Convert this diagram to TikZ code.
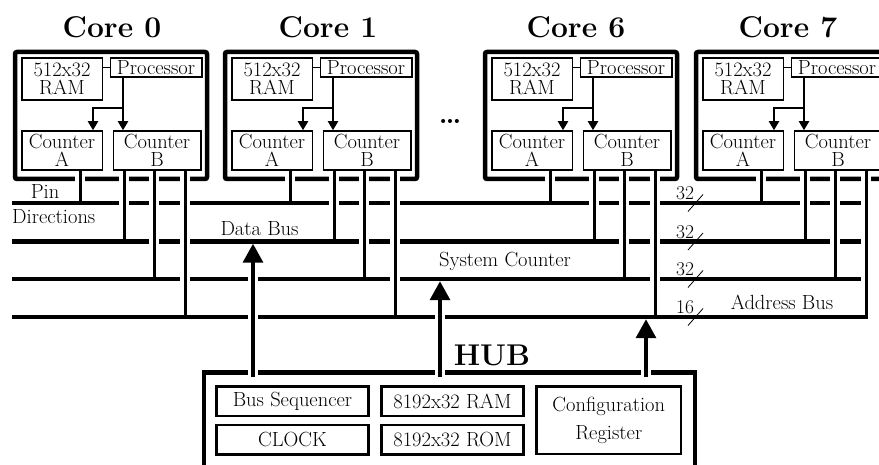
\documentclass[tikz,border=0pt]{standalone}
\usepackage{tikz}
\usetikzlibrary{calc,arrows.meta,positioning}

\begin{document}
\begin{tikzpicture}
[x=1pt,y=-1pt,every node/.style={inner sep=0pt,align=center,
	font=\fontsize{20.5}{17.5}\selectfont},
 corebox/.style={line width=4.5pt,rounded corners=2pt},
 unit/.style={draw,line width=1.5pt,minimum height=39pt},
 hubunit/.style={draw,line width=2.5pt,minimum height=29.5pt},
 title/.style={anchor=base,font=\fontsize{30}{36}\selectfont\bfseries},
 bus/.style={line width=4.5pt},
 wire/.style={line width=3pt},
 halo/.style={white,line width=10pt},
 ctl/.style={line width=2pt,-{Triangle[width=10pt,length=9pt]}},
 feed/.style={line width=3.5pt,-{Triangle[width=20pt,length=19pt]}},
 slash/.style={line width=0.8pt}]
\clip (0,0) rectangle (879,465);
\foreach \L/\n/\tx in {12/0/112,222/1/328,482/6/576,693/7/788}
{
	\node[title] (core\n) at (\tx,38) {Core \n};
	\draw[corebox] (\L+3,52) rectangle (\L+195,179);
	\node[unit,minimum width=80.5pt,minimum height=42pt] (ram\n) at (\L+50,79) {512x32\\RAM};
	\node[unit,minimum width=91.5pt,minimum height=19pt] (proc\n) at (\L+144,67.5) {Processor};
	\node[unit,minimum width=80.5pt] (ctrA\n) at (\L+50,150.5) {Counter\\A};
	\node[unit,minimum width=87.5pt] (ctrB\n) at (\L+145,150.5) {Counter\\B};
	\coordinate (fork\n) at (\L+111,108);
	\coordinate (brA\n) at (\L+81,108);
	\draw[line width=1.5pt] (ram\n.east |- proc\n.west) -- (proc\n.west);
	\draw[ctl] (proc\n.south -| fork\n) -- (ctrB\n.north -| fork\n);
	\draw[ctl] (fork\n) -- (brA\n) -- (brA\n |- ctrA\n.north);
}
\node[anchor=base] (dots) at (450,124) {\fontsize{28}{30}\selectfont\bfseries\dots};
\foreach \b/\y in {1/203,2/241.5,3/279,4/317}
	\coordinate (bus\b) at (12,\y);
\draw[bus] (bus1) -- ++(856,0);
\draw[bus] (bus2) -- ++(856,0);
\draw[bus] (bus3) -- ++(856,0);
\draw[bus] (bus4) -- ++(855.5,0);
\foreach \L/\n in {12/0,222/1,482/6,693/7}
	\foreach \dx/\b in {68/1,112/2,142/3,173/4}
	{
		\coordinate (tap\n\b) at (\L+\dx,170);
		\draw[halo,shorten <=3pt,shorten >=5pt] (tap\n\b) -- (tap\n\b |- bus\b);
		\draw[wire] (tap\n\b) -- (tap\n\b |- bus\b);
	}
\draw[line width=4.5pt] (204,490) |- (695,372.5) -- (695,490);
\node[title] (hub) at (492,365) {HUB};
\node[hubunit,minimum width=152pt] (seq) at (292.5,401) {Bus Sequencer};
\node[hubunit,minimum width=152pt] (clk) at (292.5,439.5) {CLOCK};
\node[hubunit,minimum width=142pt] (hram) at (452.5,401) {8192x32 RAM};
\node[hubunit,minimum width=142pt] (hrom) at (452.5,439.5) {8192x32 ROM};
\node[hubunit,minimum width=144.5pt,minimum height=67.5pt,
	font=\fontsize{20.5}{28}\selectfont] (cfg) at (608.8,420.2) {Configuration\\Register};
\coordinate (srcD) at (253,377);
\coordinate (srcS) at (440,377);
\coordinate (srcA) at (646,377);
\foreach \s/\b in {D/2,S/3,A/4}
{
	\draw[halo,shorten >=5pt] (src\s) -- (src\s |- bus\b);
	\draw[feed,shorten >=2.25pt] (src\s) -- (src\s |- bus\b);
}
\node[anchor=base] (pin) at (45,199) {Pin};
\node[anchor=base west] (dirs) at (12,224) {Directions};
\node[anchor=base] (dbus) at (259.5,236) {Data Bus};
\node[anchor=base] (scnt) at (505,267) {System Counter};
\node[anchor=base] (abus) at (782,309) {Address Bus};
\foreach \b/\w in {1/32,2/32,3/32,4/16}
{
	\node[anchor=base,font=\fontsize{19.5}{20}\selectfont] (width\b) at ($(bus\b)+(673,-3)$) {\w};
	\draw[slash] ($(bus\b)+(676,8.5)$) -- ++(15,-17);
}
\end{tikzpicture}
\end{document}
